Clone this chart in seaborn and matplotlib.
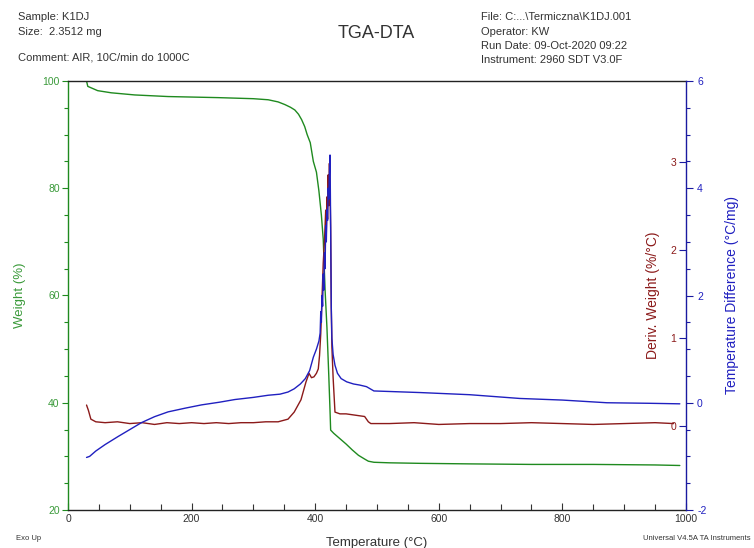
import matplotlib
matplotlib.use("Agg")
import matplotlib.pyplot as plt
from matplotlib.ticker import MultipleLocator
import seaborn as sns
import pandas as pd

# ---------------- data ----------------
tga_temp = [30, 32, 40, 48, 70, 108, 162, 243, 300, 324, 340, 351, 360, 367, 373, 378,
            383, 387, 392, 397, 402, 406, 410, 413, 416, 419, 422, 424, 425, 430, 440,
            450, 460, 470, 480, 486, 495, 520, 570, 650, 750, 850, 950, 990]
tga_weight = [100.0, 99.0, 98.6, 98.2, 97.8, 97.4, 97.1, 96.9, 96.7, 96.5, 96.1, 95.6,
              95.1, 94.6, 93.8, 92.8, 91.5, 90.0, 88.5, 85.0, 83.0, 79.5, 75.0, 70.5,
              61.0, 54.0, 45.0, 38.5, 34.9, 34.3, 33.3, 32.3, 31.2, 30.2, 29.5, 29.1,
              28.9, 28.8, 28.7, 28.6, 28.5, 28.5, 28.4, 28.3]

dtg_temp = [30, 33, 37, 45, 60, 80, 100, 120, 140, 160, 180, 200, 220, 240, 260, 280,
            300, 320, 340, 356, 366, 377, 385, 390, 394, 398, 402, 405, 407, 409, 411,
            413, 415, 417, 418, 419, 420, 421, 422, 423, 424, 425, 426, 427, 429, 432,
            440, 450, 460, 470, 480, 486, 490, 520, 560, 600, 650, 700, 750, 800, 850,
            900, 950, 980]
dtg = [0.24, 0.18, 0.08, 0.05, 0.04, 0.05, 0.03, 0.04, 0.02, 0.04, 0.03, 0.04, 0.03,
       0.04, 0.03, 0.04, 0.04, 0.05, 0.05, 0.08, 0.16, 0.30, 0.50, 0.60, 0.55, 0.56,
       0.60, 0.65, 0.80, 1.05, 1.45, 1.85, 2.10, 2.45, 2.20, 2.60, 2.35, 2.85, 2.50,
       2.98, 2.70, 2.25, 1.35, 0.90, 0.55, 0.16, 0.14, 0.14, 0.13, 0.12, 0.11, 0.05,
       0.03, 0.03, 0.04, 0.02, 0.03, 0.03, 0.04, 0.03, 0.02, 0.03, 0.04, 0.03]

dta_temp = [30, 35, 45, 60, 81, 100, 119, 140, 162, 190, 216, 245, 270, 300, 324, 343,
            356, 366, 376, 384, 391, 397, 402, 406, 408, 409, 410, 411, 412, 413, 414,
            415, 416, 417, 418, 419, 420, 421, 422, 423, 424, 425, 426, 427, 429, 432,
            436, 442, 451, 462, 472, 483, 495, 520, 570, 650, 731, 800, 872, 940, 990]
dta = [-1.02, -1.0, -0.9, -0.78, -0.63, -0.5, -0.37, -0.26, -0.17, -0.1, -0.04, 0.01,
       0.06, 0.1, 0.14, 0.16, 0.2, 0.26, 0.35, 0.45, 0.6, 0.85, 1.0, 1.15, 1.3, 1.7,
       1.5, 2.0, 1.8, 2.4, 2.1, 2.8, 2.5, 3.3, 3.0, 3.6, 3.4, 4.0, 3.8, 4.3, 4.62, 3.3,
       1.8, 1.2, 0.9, 0.7, 0.55, 0.45, 0.39, 0.35, 0.33, 0.3, 0.22, 0.21, 0.19, 0.15,
       0.08, 0.05, 0.0, -0.01, -0.02]

x_ticks = [0, 200, 400, 600, 800, 1000]
weight_ticks = [20, 40, 60, 80, 100]
deriv_ticks = [0, 1, 2, 3]
diff_ticks = [-2, 0, 2, 4, 6]

# ---------------- style ----------------
sns.set_style("ticks")
plt.rcParams["font.family"] = ["Liberation Sans", "DejaVu Sans"]
plt.rcParams["axes.unicode_minus"] = False

GREEN = "#1f8a1f"
GREEN_TXT = "#3a9a3a"
RED = "#8b1a1a"
BLUE = "#2020c0"
BLUE_AX = "#1a1aa0"
GRAY = "#333333"

W, H = 754, 548
fig = plt.figure(figsize=(W / 100, H / 100), dpi=100)
ax = fig.add_axes([68 / W, 1 - 510 / H, 618 / W, 429 / H])
ax2 = ax.twinx()
ax3 = ax.twinx()

df_tga = pd.DataFrame({"Temperature": tga_temp, "Weight": tga_weight})
df_dtg = pd.DataFrame({"Temperature": dtg_temp, "Deriv": dtg})
df_dta = pd.DataFrame({"Temperature": dta_temp, "Diff": dta})

sns.lineplot(data=df_tga, x="Temperature", y="Weight", ax=ax, color=GREEN,
             linewidth=1.0, estimator=None, sort=False, legend=False)
sns.lineplot(data=df_dtg, x="Temperature", y="Deriv", ax=ax2, color=RED,
             linewidth=1.0, estimator=None, sort=False, legend=False)
sns.lineplot(data=df_dta, x="Temperature", y="Diff", ax=ax3, color=BLUE,
             linewidth=1.0, estimator=None, sort=False, legend=False)

# ---- primary axis (weight) ----
ax.set_xlim(0, 1000)
ax.set_ylim(20, 100)
ax.set_xticks(x_ticks)
ax.xaxis.set_minor_locator(MultipleLocator(50))
ax.set_yticks(weight_ticks)
ax.yaxis.set_minor_locator(MultipleLocator(5))
ax.tick_params(axis="x", which="major", direction="in", length=5, width=0.8,
               colors=GRAY, labelsize=7.5, pad=3)
ax.tick_params(axis="x", which="minor", direction="in", length=4, width=0.8, color=GRAY)
ax.tick_params(axis="y", which="major", direction="out", length=4, width=0.8,
               color=GREEN, labelcolor=GREEN_TXT, labelsize=7.5, pad=2)
ax.tick_params(axis="y", which="minor", direction="out", length=3, width=0.8, color=GREEN)
for s in ["top", "bottom"]:
    ax.spines[s].set_color("#222222")
    ax.spines[s].set_linewidth(1.0)
ax.spines["left"].set_color(GREEN)
ax.spines["left"].set_linewidth(1.0)
ax.spines["right"].set_visible(False)
ax.set_xlabel("Temperature (°C)", fontsize=9.5, color=GRAY, labelpad=9)
ax.set_ylabel("Weight (%)", fontsize=9.5, color=GREEN_TXT)
ax.yaxis.set_label_coords(-0.068, 0.5)

# ---- derivative axis (inside labels) ----
ax2.set_ylim(-0.95, 3.914)
ax2.set_yticks(deriv_ticks)
ax2.tick_params(axis="y", which="major", direction="in", length=5, width=0.8,
                color=BLUE_AX, labelcolor=RED, labelsize=7.5, pad=-7)
for lab in ax2.get_yticklabels():
    lab.set_horizontalalignment("right")
for s in ["top", "bottom", "left", "right"]:
    ax2.spines[s].set_visible(False)
ax2.set_ylabel("Deriv. Weight (%/°C)", fontsize=10, color=RED)
ax2.yaxis.set_label_coords(0.935, 0.5)

# ---- temperature difference axis ----
ax3.set_ylim(-2, 6)
ax3.set_yticks(diff_ticks)
ax3.yaxis.set_minor_locator(MultipleLocator(0.5))
ax3.tick_params(axis="y", which="major", direction="out", length=5, width=0.8,
                color=BLUE_AX, labelcolor=BLUE, labelsize=7.5, pad=3)
ax3.tick_params(axis="y", which="minor", direction="out", length=3, width=0.8,
                color=BLUE_AX)
for s in ["top", "bottom", "left"]:
    ax3.spines[s].set_visible(False)
ax3.spines["right"].set_color(BLUE_AX)
ax3.spines["right"].set_linewidth(1.0)
ax3.set_ylabel("Temperature Difference (°C/mg)", fontsize=10, color=BLUE)
ax3.yaxis.set_label_coords(1.063, 0.5)

# ---- header / footer texts ----
def ftxt(x, y, s, **kw):
    fig.text(x / W, 1 - y / H, s, **kw)

hdr = dict(fontsize=8, color=GRAY, va="center", ha="left")
ftxt(18, 17, "Sample: K1DJ", **hdr)
ftxt(18, 32, "Size:  2.3512 mg", **hdr)
ftxt(18, 58, "Comment: AIR, 10C/min do 1000C", **hdr)
ftxt(481, 17, "File: C:...\\Termiczna\\K1DJ.001", **hdr)
ftxt(481, 32, "Operator: KW", **hdr)
ftxt(481, 46, "Run Date: 09-Oct-2020 09:22", **hdr)
ftxt(481, 60, "Instrument: 2960 SDT V3.0F", **hdr)
ftxt(376, 33, "TGA-DTA", fontsize=13, color=GRAY, ha="center", va="center")
ftxt(16, 538, "Exo Up", fontsize=5.5, color=GRAY, ha="left", va="center")
ftxt(751, 538, "Universal V4.5A TA Instruments", fontsize=5.5, color=GRAY,
     ha="right", va="center")

fig.savefig("out.png", dpi=100)
